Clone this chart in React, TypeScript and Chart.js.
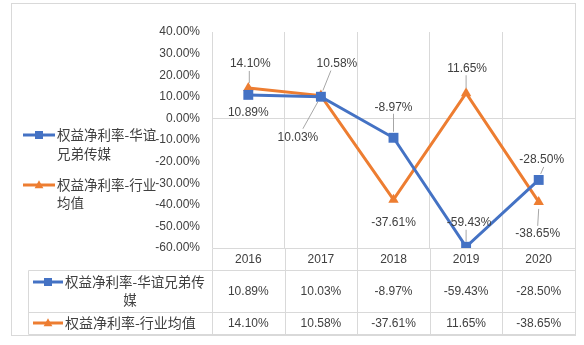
import React, { useEffect, useRef } from "react";
import { Chart, registerables } from "chart.js";

Chart.register(...registerables);

// ---------- data ----------
const years = ["2016", "2017", "2018", "2019", "2020"];
const companySeriesName = "权益净利率-华谊兄弟传媒";
const industrySeriesName = "权益净利率-行业均值";
const companyValues = [10.89, 10.03, -8.97, -59.43, -28.5];
const industryValues = [14.1, 10.58, -37.61, 11.65, -38.65];
const yMin = -60;
const yMax = 40;
const yStep = 10;

// ---------- style / layout ----------
const BLUE = "#4472C4";
const ORANGE = "#ED7D31";
const GRID = "#d9d9d9";
const TEXT = "#404040";
const NUM_FONT = "'Liberation Sans', Arial, sans-serif";
const CJK_FONT = "'Noto Sans CJK SC', 'Liberation Sans', sans-serif";

type LabelPos = { dx: number; dy: number; leader?: [number, number, number, number] };
const companyLabelPos: LabelPos[] = [
  { dx: 0, dy: 18 },
  { dx: -23, dy: 41, leader: [-18, 32, -3, 5] },
  { dx: 0, dy: -30, leader: [0, -24, 0, -6] },
  { dx: 3, dy: -24, leader: [0, -17, 0, -5] },
  { dx: 3, dy: -20, leader: [5, -13, 2, -6] },
];
const industryLabelPos: LabelPos[] = [
  { dx: 2, dy: -24, leader: [1, -17, 1, -5] },
  { dx: 16, dy: -32, leader: [10, -25, 2, -5] },
  { dx: 0, dy: 23 },
  { dx: 1, dy: -25, leader: [0, -18, 0, -5] },
  { dx: -1, dy: 32, leader: [-1, 24, 0, 7] },
];

const fmt = (v: number) => v.toFixed(2) + "%";

function drawMarker(ctx: CanvasRenderingContext2D, kind: "rect" | "tri", x: number, y: number, color: string, size: number) {
  ctx.save();
  ctx.fillStyle = color;
  ctx.beginPath();
  if (kind === "rect") {
    ctx.rect(x - size / 2, y - size / 2, size, size);
  } else {
    ctx.moveTo(x, y - size * 0.6);
    ctx.lineTo(x + size * 0.55, y + size * 0.4);
    ctx.lineTo(x - size * 0.55, y + size * 0.4);
    ctx.closePath();
  }
  ctx.fill();
  ctx.restore();
}

function drawLegendSymbol(ctx: CanvasRenderingContext2D, kind: "rect" | "tri", x0: number, x1: number, y: number, color: string) {
  ctx.save();
  ctx.strokeStyle = color;
  ctx.lineWidth = 3;
  ctx.beginPath();
  ctx.moveTo(x0, y);
  ctx.lineTo(x1, y);
  ctx.stroke();
  ctx.restore();
  drawMarker(ctx, kind, (x0 + x1) / 2, y, color, 8);
}

const labelsPlugin = {
  id: "valueLabels",
  afterDatasetsDraw(chart: any) {
    const ctx: CanvasRenderingContext2D = chart.ctx;
    const sets: [number, number[], LabelPos[]][] = [
      [0, companyValues, companyLabelPos],
      [1, industryValues, industryLabelPos],
    ];
    ctx.save();
    ctx.font = `12px ${NUM_FONT}`;
    ctx.fillStyle = TEXT;
    ctx.textAlign = "center";
    ctx.textBaseline = "middle";
    for (const [di, vals, pos] of sets) {
      const meta = chart.getDatasetMeta(di);
      meta.data.forEach((pt: any, i: number) => {
        const p = pos[i];
        if (p.leader) {
          ctx.strokeStyle = "#a6a6a6";
          ctx.lineWidth = 1;
          ctx.beginPath();
          ctx.moveTo(pt.x + p.leader[0], pt.y + p.leader[1]);
          ctx.lineTo(pt.x + p.leader[2], pt.y + p.leader[3]);
          ctx.stroke();
        }
        ctx.fillText(fmt(vals[i]), pt.x + p.dx, pt.y + p.dy);
      });
    }
    ctx.restore();
  },
};

const frameTablePlugin = {
  id: "frameTable",
  afterDraw(chart: any) {
    const ctx: CanvasRenderingContext2D = chart.ctx;
    const area = chart.chartArea;
    const xs = chart.scales.x;
    const n = years.length;
    const centers = years.map((_, i) => xs.getPixelForValue(i));
    const half = n > 1 ? (centers[1] - centers[0]) / 2 : 30;
    const bounds = [centers[0] - half, ...centers.map((c) => c + half)];

    const headTop = area.bottom;
    const row1Top = headTop + 22;
    const row2Top = row1Top + 42;
    const tableBottom = row2Top + 22;
    const labelLeft = 28;

    ctx.save();
    ctx.strokeStyle = GRID;
    ctx.lineWidth = 1;
    const line = (x0: number, y0: number, x1: number, y1: number) => {
      ctx.beginPath();
      ctx.moveTo(Math.round(x0) + 0.5, Math.round(y0) + 0.5);
      ctx.lineTo(Math.round(x1) + 0.5, Math.round(y1) + 0.5);
      ctx.stroke();
    };
    ctx.strokeRect(11.5, 3.5, bounds[n] - 11, tableBottom - 3 + 1);
    line(bounds[0], headTop, bounds[n], headTop);
    line(labelLeft, row1Top, bounds[n], row1Top);
    line(labelLeft, row2Top, bounds[n], row2Top);
    line(labelLeft, tableBottom, bounds[n], tableBottom);
    line(labelLeft, row1Top, labelLeft, tableBottom);
    bounds.forEach((b) => line(b, headTop, b, tableBottom));

    ctx.fillStyle = TEXT;
    ctx.textAlign = "center";
    ctx.textBaseline = "middle";
    ctx.font = `12px ${NUM_FONT}`;
    years.forEach((y, i) => {
      ctx.fillText(y, centers[i], (headTop + row1Top) / 2 + 1);
      ctx.fillText(fmt(companyValues[i]), centers[i], (row1Top + row2Top) / 2 + 1);
      ctx.fillText(fmt(industryValues[i]), centers[i], (row2Top + tableBottom) / 2 + 1);
    });

    drawLegendSymbol(ctx, "rect", 33, 63, row1Top + 12, BLUE);
    drawLegendSymbol(ctx, "tri", 33, 63, row2Top + 11, ORANGE);
    ctx.font = `13.5px ${CJK_FONT}`;
    ctx.textAlign = "left";
    ctx.fillText(companySeriesName.slice(0, 11), 65, row1Top + 12);
    ctx.textAlign = "center";
    ctx.fillText(companySeriesName.slice(11), 130, row1Top + 30);
    ctx.textAlign = "left";
    ctx.font = `14px ${CJK_FONT}`;
    ctx.fillText(industrySeriesName, 65, row2Top + 11);

    drawLegendSymbol(ctx, "rect", 23, 55, 135, BLUE);
    drawLegendSymbol(ctx, "tri", 23, 55, 185, ORANGE);
    ctx.font = `13.5px ${CJK_FONT}`;
    ctx.fillText(companySeriesName.slice(0, 8), 57, 135);
    ctx.fillText(companySeriesName.slice(8), 57, 154);
    ctx.fillText(industrySeriesName.slice(0, 8), 57, 185);
    ctx.fillText(industrySeriesName.slice(8), 57, 203);
    ctx.restore();
  },
};

export default function App() {
  const ref = useRef<HTMLCanvasElement | null>(null);
  useEffect(() => {
    document.body.style.margin = "0";
    const canvas = ref.current;
    if (!canvas) return;
    const chart = new Chart(canvas, {
      type: "line",
      data: {
        labels: years,
        datasets: [
          {
            label: companySeriesName,
            data: companyValues,
            borderColor: BLUE,
            backgroundColor: BLUE,
            borderWidth: 3,
            pointStyle: "rect",
            pointRadius: 7,
            pointHoverRadius: 7,
            pointBorderWidth: 0,
            tension: 0,
          },
          {
            label: industrySeriesName,
            data: industryValues,
            borderColor: ORANGE,
            backgroundColor: ORANGE,
            borderWidth: 3,
            pointStyle: "triangle",
            pointRadius: 6,
            pointHoverRadius: 6,
            pointBorderWidth: 0,
            tension: 0,
          },
        ],
      },
      options: {
        responsive: false,
        animation: false,
        devicePixelRatio: 1,
        layout: { padding: { left: 0, right: 9, top: 32, bottom: 97 } },
        plugins: {
          legend: { display: false },
          tooltip: { enabled: false },
          title: { display: false },
        },
        scales: {
          x: {
            offset: true,
            ticks: { display: false },
            grid: { offset: true, color: GRID, drawTicks: false },
            border: { display: false },
            afterFit: (s: any) => {
              s.height = 0;
            },
          },
          y: {
            min: yMin,
            max: yMax,
            ticks: {
              stepSize: yStep,
              padding: 12,
              color: TEXT,
              font: { size: 12, family: NUM_FONT },
              callback: (v: any) => Number(v).toFixed(2) + "%",
            },
            grid: {
              drawTicks: false,
              color: (c: any) => (c.tick && c.tick.value === 0 ? GRID : "rgba(0,0,0,0)"),
            },
            border: { display: false },
            afterFit: (s: any) => {
              s.width = 212;
            },
          },
        },
      },
      plugins: [labelsPlugin, frameTablePlugin],
    });
    return () => chart.destroy();
  }, []);
  return (
    <div style={{ width: 584, height: 345, background: "#fff" }}>
      <canvas ref={ref} width={584} height={345} style={{ display: "block" }} />
    </div>
  );
}
